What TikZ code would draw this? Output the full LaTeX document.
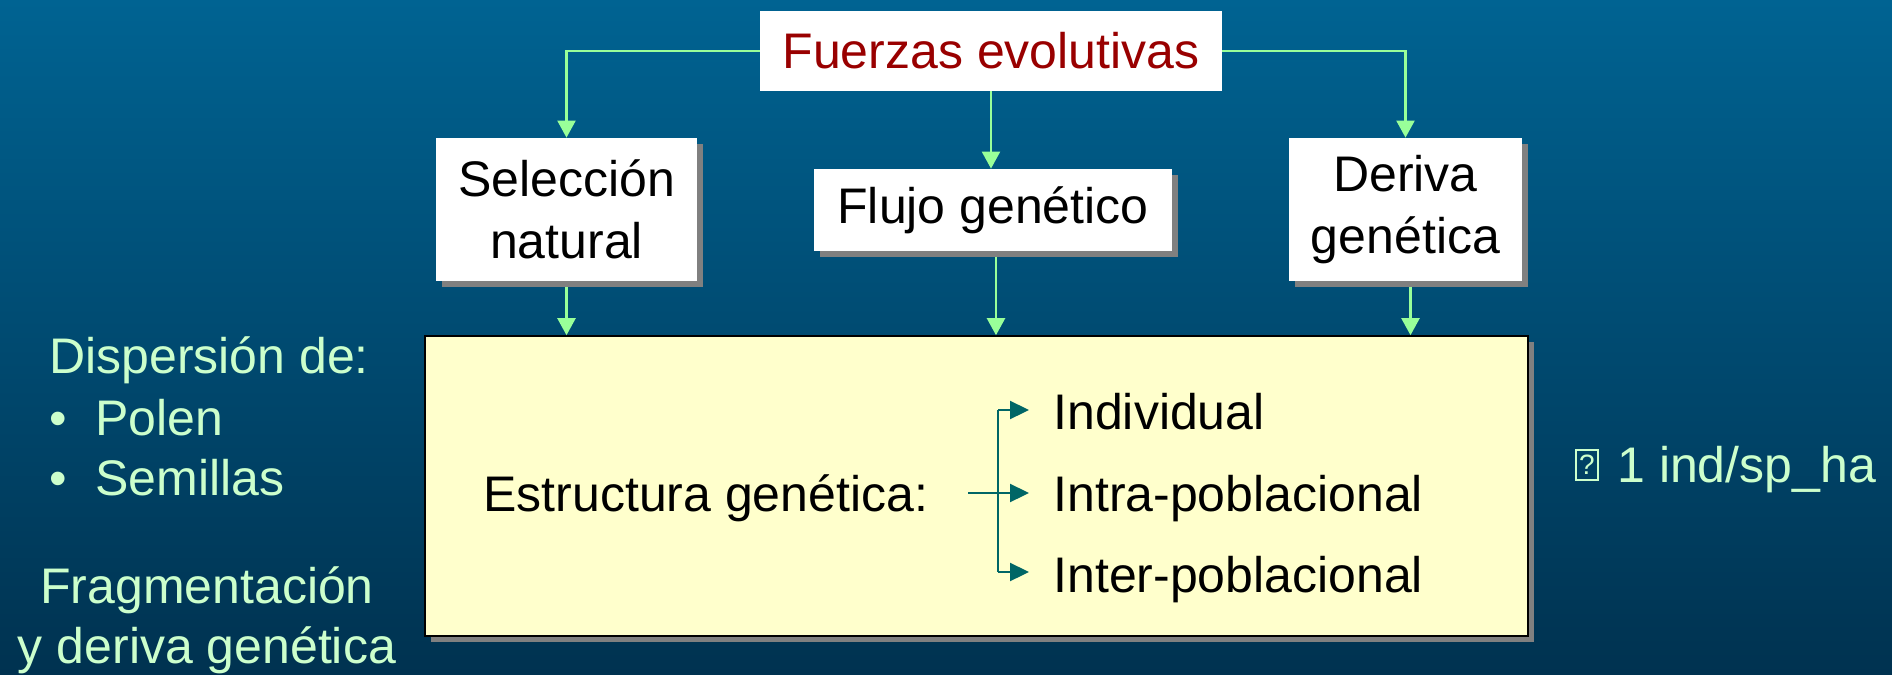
\documentclass[tikz,border=0pt]{standalone}
\usepackage{fontspec}
\setmainfont{Liberation Sans}
\usetikzlibrary{arrows.meta,shadows}
\definecolor{bgtop}{RGB}{0,99,146}
\definecolor{bgbot}{RGB}{0,50,80}
\definecolor{fred}{RGB}{153,0,0}
\definecolor{pgreen}{RGB}{204,255,204}
\definecolor{agreen}{RGB}{153,255,153}
\definecolor{teal2}{RGB}{0,102,102}
\definecolor{ylw}{RGB}{255,255,204}
\begin{document}
\begin{tikzpicture}[x=0.5pt,y=-0.5pt,
  bigfont/.style={font=\fontsize{25}{31}\selectfont},
  wbox/.style={bigfont,fill=white,align=center,inner sep=0pt},
  shbox/.style={wbox,drop shadow={shadow xshift=3pt,shadow yshift=-3pt,fill=black!50,opacity=1}},
  garrow/.style={draw=agreen,line width=1.15pt,-{Triangle[width=9pt,length=8.5pt]}},
  tarrow/.style={draw=teal2,line width=1.15pt,-{Triangle[width=9pt,length=9.5pt]}},
  tline/.style={draw=teal2,line width=1.15pt},
  gtext/.style={bigfont,text=pgreen,inner sep=0pt},
  btext/.style={bigfont,text=black,inner sep=0pt}]
\useasboundingbox (0,0) rectangle (1892,675);
\shade[top color=bgtop,bottom color=bgbot] (0,0) rectangle (1892,675);

% boxes
\node[wbox,minimum width=231pt,minimum height=40pt,text=fred] (F) at (991,51) {Fuerzas evolutivas};
\node[shbox,minimum width=130.5pt,minimum height=71.5pt] (S) at (566.5,209.5) {Selección\\natural};
\node[shbox,minimum width=179pt,minimum height=41pt] (Fl) at (993,210) {Flujo genético};
\node[shbox,minimum width=116.5pt,minimum height=71.5pt] (D) at (1405.5,209.5) {Deriva\\genética};
\node[draw=black,line width=0.8pt,fill=ylw,minimum width=551.5pt,minimum height=150pt,inner sep=0pt,
      drop shadow={shadow xshift=3pt,shadow yshift=-3pt,fill=black!50,opacity=1}] (Y) at (976.5,486) {};

% connectors
\draw[garrow] (F.west) -| (S.north);
\draw[garrow] (F.east) -| (D.north);
\draw[garrow] (F.south) -- (F.south |- Fl.north);
\draw[garrow,shorten <=3pt] (S.south) -- (S.south |- Y.north);
\draw[garrow,shorten <=3pt] ([xshift=1.5pt]Fl.south) -- ([xshift=1.5pt]Fl.south |- Y.north);
\draw[garrow,shorten <=3pt] ([xshift=2.5pt]D.south) -- ([xshift=2.5pt]D.south |- Y.north);

% inside yellow box
\node[btext,anchor=base west] (E) at (483,511) {Estructura genética:};
\node[btext,anchor=base west] (I1) at (1053,429) {Individual};
\node[btext,anchor=base west] (I2) at (1053,511) {Intra-poblacional};
\node[btext,anchor=base west] (I3) at (1053,592) {Inter-poblacional};
\coordinate (jt) at (998,410);
\coordinate (jb) at (998,572);
\coordinate (h0) at (968,493);
\draw[tline] (jt) -- (jb);
\draw[tarrow,shorten >=12pt] (jt) -- (jt -| I1.west);
\draw[tarrow,shorten >=12pt] (h0) -- (h0 -| I2.west);
\draw[tarrow,shorten >=12pt] (jb) -- (jb -| I3.west);

% left text
\node[gtext,anchor=base west] (dis) at (49,373) {Dispersión de:};
\node[gtext,anchor=base west] (b1) at (49,435) {•};
\node[gtext,anchor=base west] (pol) at (95,435) {Polen};
\node[gtext,anchor=base west] (b2) at (49,495) {•};
\node[gtext,anchor=base west] (sem) at (95,495) {Semillas};
\node[gtext,anchor=base] (fra) at (207,603) {Fragmentación};
\node[gtext,anchor=base] (yde) at (207,663) {y deriva genética};

% right text
\node[draw=pgreen,line width=0.6pt,minimum width=11pt,minimum height=15pt,inner sep=0pt,
      text=pgreen,font=\fontsize{14}{14}\selectfont] (q) at (1587,465) {?};
\node[gtext,anchor=base west] (ind) at (1617,482) {1 ind/sp\_ha};
\end{tikzpicture}
\end{document}
